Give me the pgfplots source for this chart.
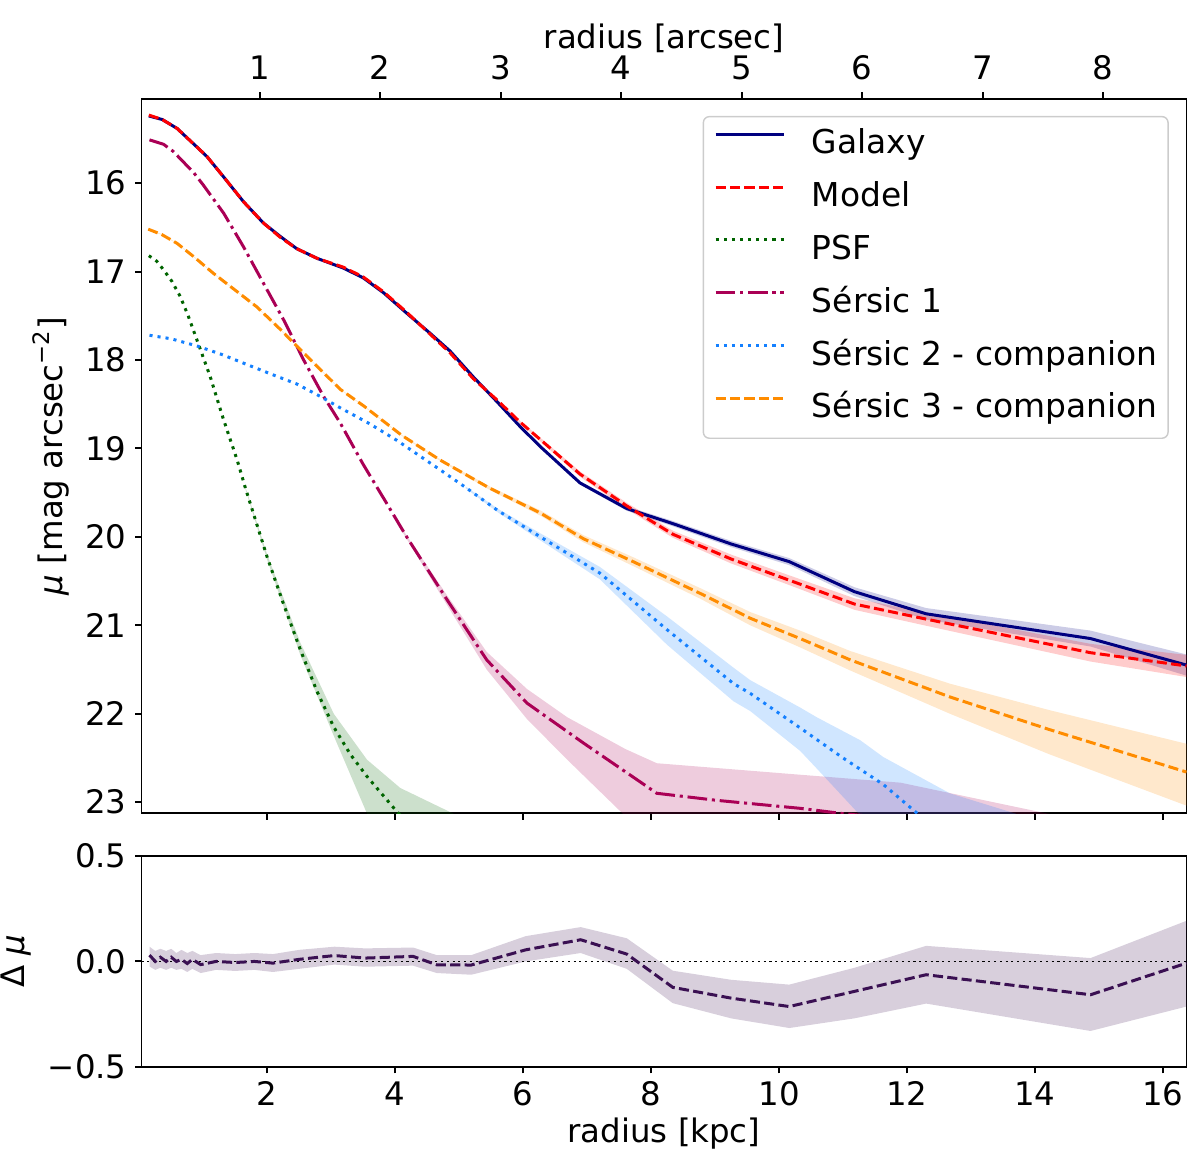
\documentclass[border=0pt]{standalone}
\usepackage{fontspec}
\setmainfont{DejaVu Sans}
\usepackage{pgfplots}
\pgfplotsset{compat=1.18}
\usepackage{pgfplotstable}
\usepgfplotslibrary{fillbetween}

\newcommand{\fs}{\fontsize{13.5}{16}\selectfont}
\newcommand{\lfs}{\fontsize{13.7}{16}\selectfont}
\definecolor{cgal}{RGB}{0,0,128}
\definecolor{cmod}{RGB}{255,0,0}
\definecolor{cpsf}{RGB}{0,100,0}
\definecolor{csa}{RGB}{170,0,85}
\definecolor{csb}{RGB}{20,128,255}
\definecolor{csc}{RGB}{255,140,0}
\definecolor{cres}{RGB}{58,16,82}

% galaxy: x y err
\pgfplotstableread{
x y e
0.15 15.24 0.004
0.36 15.28 0.004
0.59 15.38 0.004
0.9 15.59 0.004
1.06 15.70 0.004
1.32 15.93 0.004
1.63 16.21 0.004
1.94 16.45 0.004
2.20 16.60 0.004
2.46 16.74 0.004
2.78 16.85 0.004
3.19 16.96 0.005
3.50 17.07 0.005
3.82 17.24 0.005
4.18 17.47 0.006
4.55 17.70 0.006
4.86 17.90 0.007
5.22 18.19 0.008
5.59 18.47 0.010
5.95 18.75 0.012
6.27 18.98 0.015
6.89 19.39 0.020
7.62 19.68 0.025
8.34 19.85 0.030
9.25 20.08 0.035
10.16 20.28 0.040
11.18 20.62 0.050
12.3 20.87 0.065
14.87 21.15 0.090
16.37 21.45 0.120
}\gal

\pgfplotstableread{
x y e
0.15 15.23 0.004
0.36 15.28 0.004
0.59 15.38 0.004
0.9 15.59 0.004
1.06 15.70 0.004
1.32 15.93 0.004
1.63 16.21 0.004
1.94 16.45 0.004
2.20 16.61 0.004
2.46 16.74 0.004
2.78 16.85 0.004
3.19 16.95 0.005
3.50 17.06 0.005
3.82 17.23 0.005
4.18 17.46 0.005
4.55 17.71 0.006
4.86 17.92 0.007
5.22 18.21 0.010
5.59 18.45 0.012
5.95 18.70 0.015
6.27 18.90 0.020
6.89 19.29 0.030
7.62 19.65 0.035
8.34 19.97 0.040
9.25 20.25 0.050
10.16 20.49 0.055
11.18 20.76 0.065
12.3 20.93 0.075
14.87 21.31 0.100
16.37 21.46 0.125
}\mod

\pgfplotstableread{
x y
0.15 16.82
0.27 16.88
0.38 16.98
0.51 17.11
0.64 17.28
0.77 17.51
0.9 17.77
1.11 18.19
1.32 18.68
1.53 19.13
1.66 19.45
2.0 20.23
2.26 20.77
2.52 21.28
2.78 21.75
3.04 22.15
3.3 22.46
3.56 22.71
4.03 23.11
4.4 23.4
}\psf
\pgfplotstableread{
x lo hi
1.66 19.44 19.46
2.0 20.20 20.26
2.52 21.20 21.34
3.04 22.00 22.25
3.56 22.52 23.13
4.08 22.84 23.60
4.91 23.13 24.00
5.5 23.40 24.20
}\psfband

\pgfplotstableread{
x y
0.16 15.51
0.38 15.56
0.53 15.64
0.69 15.76
0.85 15.88
1.0 16.02
1.32 16.34
1.63 16.72
1.94 17.13
2.26 17.55
2.57 18.00
2.88 18.41
3.14 18.71
3.5 19.18
3.85 19.60
4.18 20.00
4.81 20.71
5.43 21.39
6.06 21.88
6.94 22.33
8.09 22.90
9.03 22.98
10.33 23.07
11.0 23.13
12.0 23.20
}\sa
\pgfplotstableread{
x lo hi
4.0 19.79 19.81
4.81 20.66 20.77
5.43 21.30 21.50
6.06 21.72 22.06
6.69 22.04 22.52
7.6 22.40 23.16
8.09 22.56 23.45
10.33 22.69 24.00
11.9 22.78 24.00
14.2 23.13 24.00
16.37 23.60 24.20
}\saband

\pgfplotstableread{
x y
0.16 17.72
0.5 17.76
0.9 17.84
1.3 17.94
1.68 18.05
2.1 18.17
2.46 18.27
2.8 18.40
3.14 18.54
3.6 18.72
4.03 18.91
4.7 19.24
5.1 19.44
5.6 19.70
6.27 20.00
7.2 20.41
8.25 21.05
9.29 21.66
9.55 21.77
10.33 22.16
11.0 22.50
11.63 22.80
12.15 23.12
12.6 23.40
}\sb
\pgfplotstableread{
x lo hi
5.1 19.43 19.45
5.6 19.68 19.72
6.27 19.96 20.04
7.2 20.34 20.48
8.25 20.90 21.22
9.29 21.48 21.86
9.55 21.62 21.97
10.33 21.93 22.42
10.59 22.04 22.62
11.27 22.30 23.15
11.63 22.49 23.45
12.67 22.90 24.10
13.7 23.13 24.40
14.5 23.50 24.60
}\sbband

\pgfplotstableread{
x y lo hi
0.14 16.52 16.515 16.525
0.35 16.58 16.575 16.585
0.59 16.68 16.675 16.685
0.85 16.83 16.825 16.835
1.16 17.02 17.015 17.025
1.5 17.21 17.205 17.215
1.84 17.40 17.395 17.405
2.2 17.65 17.645 17.655
2.57 17.92 17.915 17.925
3.14 18.33 18.325 18.335
3.51 18.52 18.515 18.525
4.10 18.85 18.844 18.856
4.70 19.13 19.12 19.14
5.48 19.45 19.43 19.47
6.27 19.73 19.70 19.76
6.94 20.02 19.98 20.06
7.72 20.28 20.23 20.33
8.77 20.64 20.58 20.70
9.55 20.92 20.85 21.00
10.33 21.15 21.06 21.25
11.11 21.39 21.29 21.51
12.67 21.81 21.66 22.00
14.23 22.18 21.96 22.46
16.37 22.66 22.34 23.04
}\sc

\pgfplotstableread{
x y hi lo
0.16 0.03 0.07 -0.024
0.25 0.0 0.05 -0.04
0.33 0.02 0.06 -0.03
0.42 0.0 0.05 -0.04
0.50 0.02 0.06 -0.03
0.58 0.0 0.04 -0.04
0.66 0.01 0.055 -0.035
0.75 -0.01 0.04 -0.05
0.83 0.01 0.05 -0.035
0.96 -0.015 0.03 -0.055
1.2 0.0 0.04 -0.04
1.5 -0.005 0.035 -0.045
1.8 0.0 0.04 -0.04
2.09 -0.008 0.035 -0.05
2.5 0.01 0.055 -0.035
3.05 0.028 0.07 -0.015
3.53 0.016 0.062 -0.025
4.28 0.024 0.066 -0.02
4.65 -0.016 0.03 -0.055
5.19 -0.017 0.03 -0.063
6.04 0.055 0.12 0.0
6.9 0.103 0.163 0.04
7.62 0.035 0.11 -0.035
8.34 -0.123 -0.044 -0.198
9.25 -0.174 -0.087 -0.27
10.16 -0.214 -0.11 -0.316
11.18 -0.142 -0.03 -0.27
12.3 -0.063 0.074 -0.2
14.87 -0.158 0.016 -0.33
16.37 -0.008 0.193 -0.214
}\res

\pgfplotsset{
  myaxis/.style={
    scale only axis, width=435.42pt,
    xmin=0.035, xmax=16.37,
    tick align=outside, major tick length=2.7pt,
    every tick/.style={line width=0.8pt, black},
    axis line style={line width=0.8pt},
    tick label style={font=\fs},
    label style={font=\fs},
    /pgf/number format/assume math mode=true,
  },
  band/.style={draw=none, forget plot},
}

\begin{document}
\begin{tikzpicture}

\begin{axis}[myaxis, tick pos=left, at={(0,0)}, anchor=south west, height=297.75pt,
  ymin=15.045, ymax=23.127, y dir=reverse,
  ytick={16,...,23}, xtick={2,4,...,16}, xticklabels={},
  ylabel={\textit{μ} [mag arcsec\textsuperscript{−2}]},
  legend cell align=left,
  legend image code/.code={
    \draw[#1] (0pt,4.6pt) -- (28.5pt,4.6pt);},
  legend style={at={(0.983,0.976)}, anchor=north east,
    draw=black!20, line width=0.6pt, rounded corners=2.5pt,
    fill=white, fill opacity=0.8, text opacity=1, draw opacity=1,
    font=\lfs, inner xsep=4.5pt, inner ysep=5pt, row sep=8pt,
    nodes={inner sep=0pt, text height=10.5pt, text depth=3.5pt},
    /tikz/every odd column/.append style={column sep=11pt}},
]
% bands
\addplot[band, name path=gA] table[x=x, y expr=\thisrow{y}-\thisrow{e}] {\gal};
\addplot[band, name path=gB] table[x=x, y expr=\thisrow{y}+\thisrow{e}] {\gal};
\addplot[fill=cgal, fill opacity=0.2, draw=none, forget plot] fill between[of=gA and gB];
\addplot[band, name path=mA] table[x=x, y expr=\thisrow{y}-\thisrow{e}] {\mod};
\addplot[band, name path=mB] table[x=x, y expr=\thisrow{y}+\thisrow{e}] {\mod};
\addplot[fill=cmod, fill opacity=0.2, draw=none, forget plot] fill between[of=mA and mB];
\addplot[band, name path=pA] table[x=x, y=lo] {\psfband};
\addplot[band, name path=pB] table[x=x, y=hi] {\psfband};
\addplot[fill=cpsf, fill opacity=0.2, draw=none, forget plot] fill between[of=pA and pB];
\addplot[band, name path=aA] table[x=x, y=lo] {\saband};
\addplot[band, name path=aB] table[x=x, y=hi] {\saband};
\addplot[fill=csa, fill opacity=0.2, draw=none, forget plot] fill between[of=aA and aB];
\addplot[band, name path=bA] table[x=x, y=lo] {\sbband};
\addplot[band, name path=bB] table[x=x, y=hi] {\sbband};
\addplot[fill=csb, fill opacity=0.2, draw=none, forget plot] fill between[of=bA and bB];
\addplot[band, name path=cA] table[x=x, y=lo] {\sc};
\addplot[band, name path=cB] table[x=x, y=hi] {\sc};
\addplot[fill=csc, fill opacity=0.2, draw=none, forget plot] fill between[of=cA and cB];
% lines
\addplot[cgal, line width=1.25pt] table[x=x, y=y] {\gal};
\addlegendentry{Galaxy}
\addplot[cmod, line width=1.25pt, dash pattern=on 4.2pt off 1.8pt] table[x=x, y=y] {\mod};
\addlegendentry{Model}
\addplot[cpsf, line width=1.25pt, dash pattern=on 1.28pt off 2.1pt] table[x=x, y=y] {\psf};
\addlegendentry{PSF}
\addplot[csa, line width=1.25pt, dash pattern=on 8.2pt off 2pt on 1.28pt off 2pt] table[x=x, y=y] {\sa};
\addlegendentry{Sérsic 1}
\addplot[csb, line width=1.25pt, dash pattern=on 1.28pt off 2.1pt] table[x=x, y=y] {\sb};
\addlegendentry{Sérsic 2 - companion}
\addplot[csc, line width=1.25pt, dash pattern=on 4.2pt off 1.8pt] table[x=x, y=y] {\sc};
\addlegendentry{Sérsic 3 - companion}
\end{axis}

\begin{axis}[myaxis, at={(0,0)}, anchor=south west, height=297.75pt,
  xmin=0.01858, xmax=8.6922, ymin=0, ymax=1,
  hide y axis, axis line style={draw=none},
  xtick pos=right, xticklabel pos=right,
  xticklabel style={yshift=1.7pt},
  xlabel style={at={(axis description cs:0.5,1)}, anchor=base, yshift=21.1pt},
  xtick={1,...,8}, xlabel={radius [arcsec]}]
\addplot[draw=none, forget plot] coordinates {(1,0.5) (2,0.5)};
\end{axis}

\begin{axis}[myaxis, tick pos=left, at={(0,-17.8pt)}, anchor=north west, height=87.8pt,
  ymin=-0.5, ymax=0.5, ytick={-0.5,0,0.5}, yticklabels={−0.5,0.0,0.5},
  xtick={2,4,...,16}, xlabel={radius [kpc]}, xlabel style={yshift=2pt},
  ylabel={Δ \textit{μ}}]
\addplot[band, name path=rA] table[x=x, y=lo] {\res};
\addplot[band, name path=rB] table[x=x, y=hi] {\res};
\addplot[fill=cres, fill opacity=0.2, draw=none] fill between[of=rA and rB];
\addplot[black, line width=0.7pt, dash pattern=on 0.9pt off 1.5pt] coordinates {(0.035,0) (16.37,0)};
\addplot[cres, line width=1.25pt, dash pattern=on 4.2pt off 1.8pt] table[x=x, y=y] {\res};
\end{axis}

\pgfresetboundingbox
\path[use as bounding box] (-58.96pt,-145.7pt) rectangle (441.04pt,338.9pt);
\end{tikzpicture}
\end{document}
